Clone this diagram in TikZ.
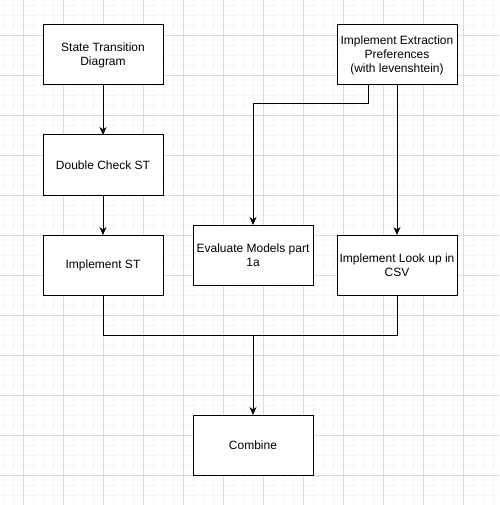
\documentclass[tikz,border=0pt]{standalone}
\usepackage{fontspec}
\setmainfont{Liberation Sans}
\usepackage{tikz}
\usetikzlibrary{positioning,calc}
\usetikzlibrary{arrows.meta,shapes}
\tikzstyle{block} = [rectangle,draw=black,line width=1pt,fill=white,align=center,minimum width=120pt,minimum height=60pt,inner sep=0pt,outer sep=0pt,font=\fontsize{12}{14}\selectfont]
\tikzstyle{line} = [line width=1pt,-{Stealth[length=8pt,width=7pt,inset=2.5pt]}]
\tikzstyle{link} = [line width=1pt]
\tikzstyle{gridminor} = [draw=black!4,line width=0.8pt]
\tikzstyle{gridmajor} = [draw=black!14,line width=0.8pt]

\begin{document}
\begin{tikzpicture}[x=1pt,y=-1pt]
        \useasboundingbox (0,0) rectangle (499,505);
        % background grid
        \foreach \gx in {3,13,...,493} \draw[gridminor] (\gx,0) -- (\gx,505);
        \foreach \gy in {5,15,...,505} \draw[gridminor] (0,\gy) -- (499,\gy);
        \foreach \gx in {23,63,...,463} \draw[gridmajor] (\gx,0) -- (\gx,505);
        \foreach \gy in {35,75,...,475} \draw[gridmajor] (0,\gy) -- (499,\gy);
        % boxes
        \node[block] (std) at (103,55) {State Transition\\Diagram};
        \node[block,below=50pt of std] (dcst) {Double Check ST};
        \node[block,below=40pt of dcst] (ist) {Implement ST};
        \node[block] (iep) at (397,55) {Implement Extraction\\Preferences\\(with levenshtein)};
        \node[block] (emp) at (253,255) {Evaluate Models part\\1a};
        \node[block,below=150pt of iep] (ilu) {Implement Look up in\\CSV};
        \node[block,below=130pt of emp] (comb) {Combine};
        \coordinate (bend) at (253,104);
        \coordinate (merge) at (253,335);
        % connectors
        \draw[line] (std) -- (dcst);
        \draw[line] (dcst) -- (ist);
        \draw[line] ([xshift=-29pt]iep.south) |- (bend) -- (emp);
        \draw[line] (iep) -- (ilu);
        \draw[link] (ist.south) |- (merge);
        \draw[link] (ilu.south) |- (merge);
        \draw[line] (merge) -- (comb);
    \end{tikzpicture}
\end{document}
